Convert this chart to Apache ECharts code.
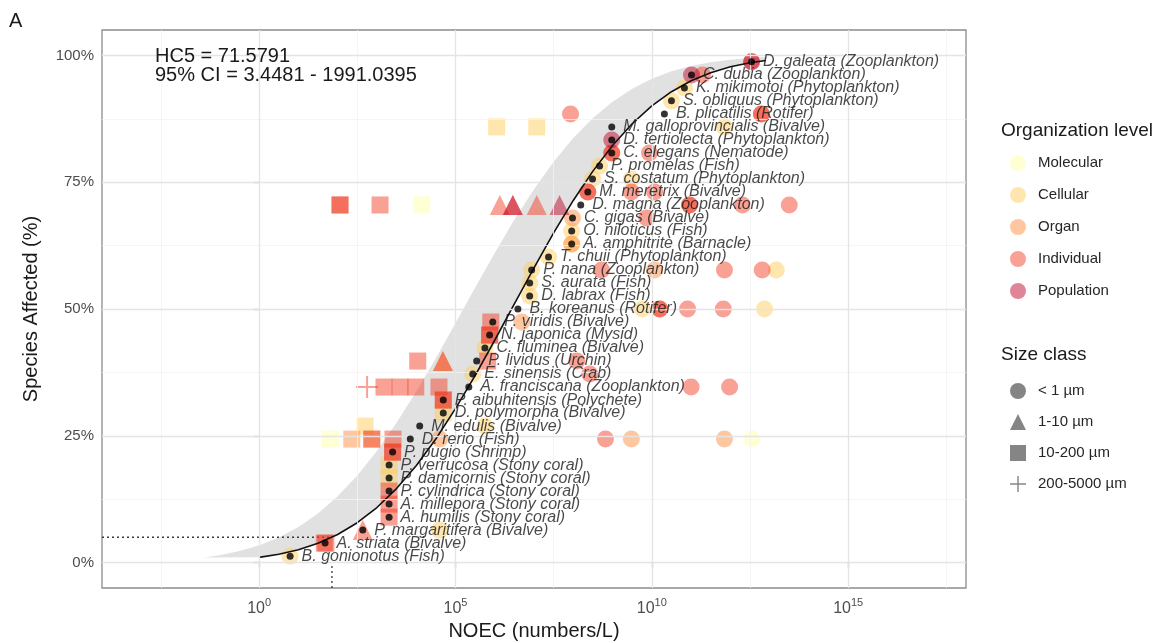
<!DOCTYPE html>
<html>
<head>
<meta charset="utf-8">
<script src="https://cdn.jsdelivr.net/npm/echarts@6/dist/echarts.min.js"></script>
<style>
  html, body { margin: 0; padding: 0; background: #ffffff; }
  #chart { width: 1166px; height: 643px; }
</style>
</head>
<body>
<div id="chart"></div>
<script>
// Species ranked by sensitivity (least NOEC first)
const species = [
  'B. gonionotus', 'A. striata', 'P. margaritifera', 'A. humilis', 'A. millepora',
  'P. cylindrica', 'P. damicornis', 'P. verrucosa', 'P. pugio', 'D. rerio',
  'M. edulis', 'D. polymorpha', 'P. aibuhitensis', 'A. franciscana', 'E. sinensis',
  'P. lividus', 'C. fluminea', 'N. japonica', 'P. viridis', 'B. koreanus',
  'D. labrax', 'S. aurata', 'P. nana', 'T. chuii', 'A. amphitrite',
  'O. niloticus', 'C. gigas', 'D. magna', 'M. meretrix', 'S. costatum',
  'P. promelas', 'C. elegans', 'D. tertiolecta', 'M. galloprovincialis', 'B. plicatilis',
  'S. obliquus', 'K. mikimotoi', 'C. dubia', 'D. galeata'
];
const taxa = [
  'Fish', 'Bivalve', 'Bivalve', 'Stony coral', 'Stony coral',
  'Stony coral', 'Stony coral', 'Stony coral', 'Shrimp', 'Fish',
  'Bivalve', 'Bivalve', 'Polychete', 'Zooplankton', 'Crab',
  'Urchin', 'Bivalve', 'Mysid', 'Bivalve', 'Rotifer',
  'Fish', 'Fish', 'Zooplankton', 'Phytoplankton', 'Barnacle',
  'Fish', 'Bivalve', 'Zooplankton', 'Bivalve', 'Phytoplankton',
  'Fish', 'Nematode', 'Phytoplankton', 'Bivalve', 'Rotifer',
  'Phytoplankton', 'Phytoplankton', 'Zooplankton', 'Zooplankton'
];
// Cumulative fraction of species affected (%)
const affectedPct = [
  1.28, 3.85, 6.41, 8.97, 11.54, 14.10, 16.67, 19.23, 21.79, 24.36,
  26.92, 29.49, 32.05, 34.62, 37.18, 39.74, 42.31, 44.87, 47.44, 50.00,
  52.56, 55.13, 57.69, 60.26, 62.82, 65.38, 67.95, 70.51, 73.08, 75.64,
  78.21, 80.77, 83.33, 85.90, 88.46, 91.03, 93.59, 96.15, 98.72
];
// Species NOEC, log10(numbers/L)
const speciesLogNoec = [
  0.79, 1.68, 2.64, 3.31, 3.31, 3.31, 3.31, 3.31, 3.40, 3.85,
  4.09, 4.69, 4.69, 5.34, 5.44, 5.54, 5.75, 5.87, 5.95, 6.59,
  6.89, 6.89, 6.94, 7.37, 7.96, 7.96, 7.98, 8.19, 8.37, 8.49,
  8.67, 8.98, 8.98, 8.98, 10.32, 10.50, 10.83, 11.01, 12.54
];

// Individual NOEC records: [species index, log10 NOEC, size class index]
const molecularObs = [
  [9, 1.81, 2], [9, 12.54, 0], [27, 4.14, 2]
];
const cellularObs = [
  [0, 0.79, 0], [2, 4.60, 0], [6, 3.31, 2], [7, 3.31, 2], [10, 2.70, 2],
  [10, 5.75, 0], [11, 4.69, 2], [14, 5.44, 0], [16, 5.75, 0], [19, 9.76, 0],
  [19, 12.87, 0], [20, 6.89, 0], [21, 6.89, 0], [22, 6.94, 0], [22, 13.17, 0],
  [23, 7.37, 0], [24, 7.96, 0], [25, 7.96, 0], [29, 8.49, 0], [29, 9.48, 0],
  [30, 8.67, 0], [33, 6.05, 2], [33, 7.07, 2], [33, 11.85, 0], [35, 10.50, 0],
  [36, 10.83, 0]
];
const organObs = [
  [9, 2.36, 2], [9, 2.87, 2], [9, 4.60, 0], [9, 9.48, 0], [9, 11.85, 0],
  [15, 4.68, 1], [18, 6.69, 0], [22, 10.07, 0], [24, 7.96, 0], [26, 7.98, 0]
];
const individualObs = [
  [1, 1.66, 2], [1, 1.70, 2], [2, 2.64, 1], [3, 3.31, 2], [4, 3.31, 2],
  [5, 3.31, 2], [8, 3.40, 2], [8, 3.40, 2], [9, 2.87, 2], [9, 3.41, 2],
  [9, 8.82, 0], [12, 4.69, 2], [12, 4.69, 2], [13, 2.75, 3], [13, 3.18, 2],
  [13, 3.59, 2], [13, 3.99, 2], [13, 4.58, 2], [13, 11.00, 0], [13, 11.98, 0],
  [14, 8.42, 0], [15, 4.04, 2], [15, 4.68, 1], [15, 5.82, 2], [15, 8.09, 0],
  [17, 5.87, 2], [17, 5.87, 2], [18, 5.90, 2], [19, 10.20, 0], [19, 10.20, 0],
  [19, 10.91, 0], [19, 11.82, 0], [22, 8.72, 0], [22, 11.85, 0], [22, 12.81, 0],
  [26, 9.87, 0], [27, 6.13, 1], [27, 6.46, 1], [27, 7.07, 1], [27, 2.06, 2],
  [27, 2.06, 2], [27, 3.08, 2], [27, 10.96, 0], [27, 10.96, 0], [27, 12.31, 0],
  [27, 13.50, 0], [28, 8.37, 0], [28, 8.37, 0], [28, 9.48, 0], [28, 10.07, 0],
  [31, 8.98, 0], [31, 8.98, 0], [31, 9.94, 0], [34, 7.93, 0], [34, 12.79, 0],
  [34, 12.79, 0], [37, 11.29, 0], [38, 12.54, 0]
];
const populationObs = [
  [27, 6.46, 1], [27, 7.65, 1], [32, 8.98, 0], [37, 11.01, 0], [38, 12.54, 0]
];

// Fitted species sensitivity distribution (log10 NOEC, % affected)
const fitLogNoec = [0, 0.5, 1, 1.5, 2, 2.5, 3, 3.5, 4, 4.5, 5, 5.5, 6, 6.5, 7, 7.5, 8, 8.5, 9, 9.5, 10, 10.5, 11, 11.5, 12, 12.5, 12.9];
const fitPct = [1.04, 1.65, 2.54, 3.81, 5.55, 7.87, 10.86, 14.60, 19.11, 24.38, 30.36, 36.88, 43.84, 51.00, 58.12, 64.99, 71.40, 77.18, 82.23, 86.52, 90.04, 92.84, 94.99, 96.59, 97.75, 98.55, 99.00];
// Upper confidence limit of the fit
const uclLogNoec = [-1.4, -1, -0.5, 0, 0.5, 1, 1.5, 2, 2.5, 3, 3.5, 4, 4.5, 5, 5.5, 6, 6.5, 7, 7.5, 8, 8.5, 9, 9.5, 10, 10.5, 11, 11.5, 12, 12.5, 12.9];
const uclPct = [1.03, 1.48, 2.28, 3.40, 4.96, 7.03, 9.71, 13.07, 17.18, 22.00, 27.56, 33.69, 40.29, 47.21, 54.18, 61.06, 67.58, 73.63, 79.02, 83.70, 87.66, 90.88, 93.43, 95.39, 96.86, 97.91, 98.65, 99.15, 99.48, 99.66];

const hc5 = 71.5791;
const hc5CiLow = 3.4481;
const hc5CiHigh = 1991.0395;
const hc5Pct = 5;

const xTicks = [0, 5, 10, 15];
const yTicks = [0, 25, 50, 75, 100];
const xMinorLines = [-2.5, 2.5, 7.5, 12.5, 17.5];
const yMinorLines = [12.5, 37.5, 62.5, 87.5];

const levelNames = ['Molecular', 'Cellular', 'Organ', 'Individual', 'Population'];
const levelColors = ['rgba(255,255,178,0.7)', 'rgba(254,204,92,0.62)', 'rgba(253,141,60,0.62)', 'rgba(240,59,32,0.6)', 'rgba(189,0,38,0.6)'];
const sizeNames = ['< 1 µm', '1-10 µm', '10-200 µm', '200-5000 µm'];

const crossPath = 'path://M4.55,0h0.9v4.55h4.55v0.9h-4.55v4.55h-0.9v-4.55h-4.55v-0.9h4.55z';
const sizeSymbols = ['circle', 'triangle', 'rect', crossPath];
const sizeSymbolSizes = [17, 20, 17, 22];

const FONT = '"Liberation Sans", Arial, Helvetica, sans-serif';
const chart = echarts.init(document.getElementById('chart'), null, { renderer: 'canvas' });

function obsSeries(name, color, obs) {
  return {
    name: name,
    type: 'scatter',
    z: 3,
    silent: true,
    data: obs.map(r => [r[1], affectedPct[r[0]], r[2]]),
    symbol: v => sizeSymbols[v[2]],
    symbolSize: v => sizeSymbolSizes[v[2]],
    itemStyle: { color: color, borderWidth: 0 }
  };
}
const levelData = [molecularObs, cellularObs, organObs, individualObs, populationObs];

const hc5Log = Math.log10(hc5);

const series = [
  // panel grid lines
  {
    type: 'line', data: [], z: 0, silent: true,
    markLine: {
      silent: true, symbol: ['none', 'none'], label: { show: false }, animation: false,
      data: [
        ...xMinorLines.map(v => ({ xAxis: v, lineStyle: { color: '#f2f2f2', width: 0.8, type: 'solid' } })),
        ...yMinorLines.map(v => ({ yAxis: v, lineStyle: { color: '#f2f2f2', width: 0.8, type: 'solid' } })),
        ...xTicks.map(v => ({ xAxis: v, lineStyle: { color: '#e4e4e4', width: 1.3, type: 'solid' } })),
        ...yTicks.map(v => ({ yAxis: v, lineStyle: { color: '#e4e4e4', width: 1.3, type: 'solid' } }))
      ]
    }
  },
  // confidence band between the fit and its upper limit
  {
    type: 'custom', z: 1, silent: true, data: [0],
    renderItem: (params, api) => {
      const pts = [];
      for (let i = 0; i < uclLogNoec.length; i++) pts.push(api.coord([uclLogNoec[i], uclPct[i]]));
      for (let i = fitLogNoec.length - 1; i >= 0; i--) pts.push(api.coord([fitLogNoec[i], fitPct[i]]));
      return { type: 'polygon', shape: { points: pts }, style: { fill: 'rgba(200,200,200,0.55)' } };
    }
  },
  // HC5 guide lines
  {
    type: 'line', z: 2, silent: true, symbol: 'none',
    data: [[-4, hc5Pct], [hc5Log, hc5Pct]],
    lineStyle: { color: '#3a3a3a', width: 1.3, type: [2, 3] }
  },
  {
    type: 'line', z: 2, silent: true, symbol: 'none',
    data: [[hc5Log, -5], [hc5Log, 0]],
    lineStyle: { color: '#3a3a3a', width: 1.3, type: [2, 3] }
  },
  ...levelNames.map((n, i) => obsSeries(n, levelColors[i], levelData[i])),
  ...sizeNames.map(n => ({ name: n, type: 'scatter', data: [], itemStyle: { color: 'rgba(0,0,0,0.6)' } })),
  // fitted curve
  {
    type: 'line', z: 4, silent: true, symbol: 'none',
    data: fitLogNoec.map((x, i) => [x, fitPct[i]]),
    lineStyle: { color: '#111111', width: 1.6 }
  },
  // species points with labels
  {
    type: 'scatter', z: 5, silent: true,
    data: speciesLogNoec.map((x, i) => ({ value: [x, affectedPct[i]], name: species[i] + ' (' + taxa[i] + ')' })),
    symbol: 'circle', symbolSize: 7,
    itemStyle: { color: '#000000' },
    label: {
      show: true, position: 'right', distance: 8,
      formatter: p => p.name,
      fontFamily: FONT, fontStyle: 'italic', fontSize: 16, color: '#1a1a1a'
    },
    labelLayout: { hideOverlap: false }
  }
];

const option = {
  animation: false,
  backgroundColor: '#ffffff',
  textStyle: { fontFamily: FONT },
  title: [
    { text: 'A', left: 9, top: 11, padding: 0, textStyle: { fontFamily: FONT, fontSize: 20, fontWeight: 'normal', color: '#1a1a1a' } },
    {
      text: 'HC5 = ' + hc5 + '\n95% CI = ' + hc5CiLow + ' - ' + hc5CiHigh,
      left: 155, top: 47, padding: 0,
      textStyle: { fontFamily: FONT, fontSize: 20, lineHeight: 19, fontWeight: 'normal', color: '#1a1a1a' }
    },
    { text: 'Organization level', left: 996, top: 116, textStyle: { fontFamily: FONT, fontSize: 19, fontWeight: 'normal', color: '#1a1a1a' } },
    { text: 'Size class', left: 996, top: 340, textStyle: { fontFamily: FONT, fontSize: 19, fontWeight: 'normal', color: '#1a1a1a' } }
  ],
  legend: [
    {
      orient: 'vertical', left: 1005, top: 150, itemWidth: 16, itemHeight: 16, itemGap: 16,
      selectedMode: false,
      data: levelNames.map(n => ({ name: n, icon: 'circle' })),
      formatter: n => '{t|' + n + '}',
      textStyle: { fontFamily: FONT, fontSize: 15, color: '#262626', rich: { t: { fontFamily: FONT, fontSize: 15, color: '#262626', padding: [0, 0, 0, 7] } } }
    },
    {
      orient: 'vertical', left: 1005, top: 378, itemWidth: 16, itemHeight: 16, itemGap: 15,
      selectedMode: false,
      data: sizeNames.map((n, i) => ({ name: n, icon: sizeSymbols[i] })),
      formatter: n => '{t|' + n + '}',
      textStyle: { fontFamily: FONT, fontSize: 15, color: '#262626', rich: { t: { fontFamily: FONT, fontSize: 15, color: '#262626', padding: [0, 0, 0, 7] } } }
    }
  ],
  grid: {
    left: 102, top: 30, width: 864, height: 558,
    show: true, borderColor: '#8c8c8c', borderWidth: 1.3, backgroundColor: 'transparent',
    containLabel: false, outerBoundsMode: 'none'
  },
  xAxis: {
    type: 'value', min: -4, max: 18,
    name: 'NOEC (numbers/L)', nameLocation: 'middle', nameGap: 30,
    nameTextStyle: { fontFamily: FONT, fontSize: 20, color: '#1a1a1a' },
    axisLine: { show: false },
    axisTick: { show: true, customValues: xTicks, length: 5, lineStyle: { color: '#555555', width: 1.2 } },
    axisLabel: {
      customValues: xTicks, margin: 9,
      formatter: v => '{b|10}{s|' + v + '}',
      rich: {
        b: { fontFamily: FONT, fontSize: 16, color: '#4d4d4d', lineHeight: 20, verticalAlign: 'bottom' },
        s: { fontFamily: FONT, fontSize: 11, color: '#4d4d4d', lineHeight: 20, verticalAlign: 'top' }
      }
    },
    splitLine: { show: false }
  },
  yAxis: {
    type: 'value', min: -5, max: 105,
    name: 'Species Affected (%)', nameLocation: 'middle', nameGap: 61, nameRotate: 90,
    nameTextStyle: { fontFamily: FONT, fontSize: 20, color: '#1a1a1a' },
    axisLine: { show: false },
    axisTick: { show: true, customValues: yTicks, length: 5, lineStyle: { color: '#555555', width: 1.2 } },
    axisLabel: {
      customValues: yTicks, margin: 8,
      formatter: v => v + '%',
      fontFamily: FONT, fontSize: 15, color: '#4d4d4d'
    },
    splitLine: { show: false }
  },
  series: series
};

chart.setOption(option);
</script>
</body>
</html>
